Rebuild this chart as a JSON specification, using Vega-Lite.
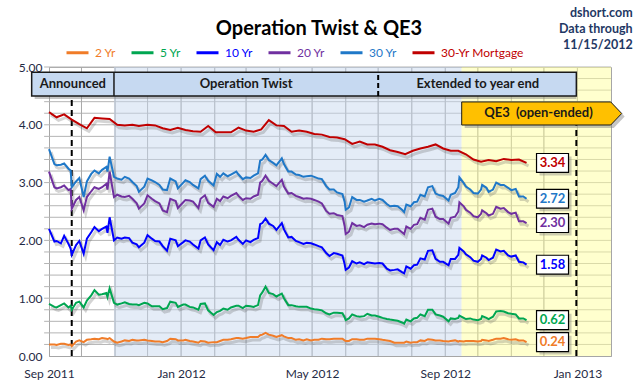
{
  "$schema": "https://vega.github.io/schema/vega-lite/v6.json",
  "width": 562,
  "height": 289,
  "autosize": "none",
  "padding": {"left": 49, "top": 67, "right": 29, "bottom": 29},
  "background": "white",
  "title": {"text": "Operation Twist & QE3", "font": "Lato", "fontSize": 20, "fontWeight": "bold", "color": "#000000", "anchor": "middle", "frame": "group", "dx": -11, "offset": -32},
  "config": {
    "font": "Lato",
    "view": {"stroke": "#a6a6a6", "strokeWidth": 1}
  },
  "datasets": {
    "treas": [
      {"d": "2011-09-01", "2 Yr": 0.20, "5 Yr": 0.90, "10 Yr": 2.20, "20 Yr": 3.19, "30 Yr": 3.58},
      {"d": "2011-09-06", "2 Yr": 0.20, "5 Yr": 0.85, "10 Yr": 1.98, "20 Yr": 2.92, "30 Yr": 3.32},
      {"d": "2011-09-08", "2 Yr": 0.19, "5 Yr": 0.84, "10 Yr": 1.99, "20 Yr": 2.90, "30 Yr": 3.30},
      {"d": "2011-09-12", "2 Yr": 0.21, "5 Yr": 0.88, "10 Yr": 1.95, "20 Yr": 2.92, "30 Yr": 3.31},
      {"d": "2011-09-15", "2 Yr": 0.21, "5 Yr": 0.91, "10 Yr": 2.08, "20 Yr": 2.95, "30 Yr": 3.33},
      {"d": "2011-09-19", "2 Yr": 0.19, "5 Yr": 0.84, "10 Yr": 1.94, "20 Yr": 2.87, "30 Yr": 3.24},
      {"d": "2011-09-21", "2 Yr": 0.20, "5 Yr": 0.87, "10 Yr": 1.86, "20 Yr": 2.89, "30 Yr": 3.21},
      {"d": "2011-09-22", "2 Yr": 0.17, "5 Yr": 0.80, "10 Yr": 1.75, "20 Yr": 2.55, "30 Yr": 2.92},
      {"d": "2011-09-26", "2 Yr": 0.25, "5 Yr": 0.92, "10 Yr": 1.92, "20 Yr": 2.70, "30 Yr": 3.02},
      {"d": "2011-09-29", "2 Yr": 0.27, "5 Yr": 0.94, "10 Yr": 1.99, "20 Yr": 2.75, "30 Yr": 3.08},
      {"d": "2011-10-03", "2 Yr": 0.24, "5 Yr": 0.84, "10 Yr": 1.77, "20 Yr": 2.52, "30 Yr": 2.75},
      {"d": "2011-10-06", "2 Yr": 0.28, "5 Yr": 0.96, "10 Yr": 2.03, "20 Yr": 2.75, "30 Yr": 3.02},
      {"d": "2011-10-10", "2 Yr": 0.29, "5 Yr": 1.05, "10 Yr": 2.14, "20 Yr": 2.85, "30 Yr": 3.15},
      {"d": "2011-10-13", "2 Yr": 0.30, "5 Yr": 1.14, "10 Yr": 2.23, "20 Yr": 2.92, "30 Yr": 3.21},
      {"d": "2011-10-17", "2 Yr": 0.29, "5 Yr": 1.06, "10 Yr": 2.16, "20 Yr": 2.89, "30 Yr": 3.16},
      {"d": "2011-10-20", "2 Yr": 0.31, "5 Yr": 1.07, "10 Yr": 2.20, "20 Yr": 2.92, "30 Yr": 3.22},
      {"d": "2011-10-24", "2 Yr": 0.30, "5 Yr": 1.09, "10 Yr": 2.24, "20 Yr": 2.98, "30 Yr": 3.27},
      {"d": "2011-10-25", "2 Yr": 0.29, "5 Yr": 1.02, "10 Yr": 2.13, "20 Yr": 2.88, "30 Yr": 3.19},
      {"d": "2011-10-27", "2 Yr": 0.31, "5 Yr": 1.17, "10 Yr": 2.40, "20 Yr": 3.19, "30 Yr": 3.45},
      {"d": "2011-10-31", "2 Yr": 0.25, "5 Yr": 0.92, "10 Yr": 2.00, "20 Yr": 2.75, "30 Yr": 3.10},
      {"d": "2011-11-03", "2 Yr": 0.23, "5 Yr": 0.89, "10 Yr": 2.05, "20 Yr": 2.79, "30 Yr": 3.07},
      {"d": "2011-11-07", "2 Yr": 0.25, "5 Yr": 0.91, "10 Yr": 2.03, "20 Yr": 2.76, "30 Yr": 3.05},
      {"d": "2011-11-10", "2 Yr": 0.27, "5 Yr": 0.93, "10 Yr": 2.05, "20 Yr": 2.75, "30 Yr": 3.10},
      {"d": "2011-11-14", "2 Yr": 0.26, "5 Yr": 0.90, "10 Yr": 2.04, "20 Yr": 2.77, "30 Yr": 3.07},
      {"d": "2011-11-17", "2 Yr": 0.28, "5 Yr": 0.89, "10 Yr": 1.96, "20 Yr": 2.72, "30 Yr": 3.01},
      {"d": "2011-11-21", "2 Yr": 0.27, "5 Yr": 0.89, "10 Yr": 1.93, "20 Yr": 2.64, "30 Yr": 2.94},
      {"d": "2011-11-23", "2 Yr": 0.27, "5 Yr": 0.88, "10 Yr": 1.88, "20 Yr": 2.55, "30 Yr": 2.84},
      {"d": "2011-11-28", "2 Yr": 0.28, "5 Yr": 0.92, "10 Yr": 1.96, "20 Yr": 2.64, "30 Yr": 2.93},
      {"d": "2011-12-01", "2 Yr": 0.27, "5 Yr": 0.91, "10 Yr": 2.09, "20 Yr": 2.78, "30 Yr": 3.07},
      {"d": "2011-12-05", "2 Yr": 0.26, "5 Yr": 0.86, "10 Yr": 2.03, "20 Yr": 2.72, "30 Yr": 3.04},
      {"d": "2011-12-08", "2 Yr": 0.25, "5 Yr": 0.86, "10 Yr": 1.99, "20 Yr": 2.68, "30 Yr": 3.01},
      {"d": "2011-12-12", "2 Yr": 0.25, "5 Yr": 0.86, "10 Yr": 1.98, "20 Yr": 2.64, "30 Yr": 2.96},
      {"d": "2011-12-15", "2 Yr": 0.24, "5 Yr": 0.81, "10 Yr": 1.90, "20 Yr": 2.52, "30 Yr": 2.88},
      {"d": "2011-12-19", "2 Yr": 0.26, "5 Yr": 0.83, "10 Yr": 1.82, "20 Yr": 2.49, "30 Yr": 2.87},
      {"d": "2011-12-22", "2 Yr": 0.30, "5 Yr": 0.94, "10 Yr": 2.03, "20 Yr": 2.72, "30 Yr": 3.07},
      {"d": "2011-12-27", "2 Yr": 0.29, "5 Yr": 0.92, "10 Yr": 2.00, "20 Yr": 2.68, "30 Yr": 3.02},
      {"d": "2011-12-29", "2 Yr": 0.27, "5 Yr": 0.85, "10 Yr": 1.90, "20 Yr": 2.56, "30 Yr": 2.90},
      {"d": "2012-01-03", "2 Yr": 0.27, "5 Yr": 0.89, "10 Yr": 1.97, "20 Yr": 2.66, "30 Yr": 3.00},
      {"d": "2012-01-05", "2 Yr": 0.28, "5 Yr": 0.89, "10 Yr": 2.00, "20 Yr": 2.70, "30 Yr": 3.04},
      {"d": "2012-01-09", "2 Yr": 0.26, "5 Yr": 0.85, "10 Yr": 1.98, "20 Yr": 2.69, "30 Yr": 3.01},
      {"d": "2012-01-12", "2 Yr": 0.25, "5 Yr": 0.84, "10 Yr": 1.93, "20 Yr": 2.67, "30 Yr": 2.96},
      {"d": "2012-01-17", "2 Yr": 0.23, "5 Yr": 0.80, "10 Yr": 1.86, "20 Yr": 2.56, "30 Yr": 2.90},
      {"d": "2012-01-19", "2 Yr": 0.26, "5 Yr": 0.90, "10 Yr": 2.00, "20 Yr": 2.72, "30 Yr": 3.06},
      {"d": "2012-01-23", "2 Yr": 0.25, "5 Yr": 0.91, "10 Yr": 2.05, "20 Yr": 2.78, "30 Yr": 3.12},
      {"d": "2012-01-26", "2 Yr": 0.23, "5 Yr": 0.79, "10 Yr": 1.93, "20 Yr": 2.65, "30 Yr": 3.03},
      {"d": "2012-01-31", "2 Yr": 0.24, "5 Yr": 0.71, "10 Yr": 1.83, "20 Yr": 2.58, "30 Yr": 2.95},
      {"d": "2012-02-03", "2 Yr": 0.24, "5 Yr": 0.76, "10 Yr": 1.97, "20 Yr": 2.72, "30 Yr": 3.15},
      {"d": "2012-02-06", "2 Yr": 0.26, "5 Yr": 0.78, "10 Yr": 1.92, "20 Yr": 2.68, "30 Yr": 3.10},
      {"d": "2012-02-09", "2 Yr": 0.28, "5 Yr": 0.82, "10 Yr": 2.01, "20 Yr": 2.76, "30 Yr": 3.16},
      {"d": "2012-02-13", "2 Yr": 0.28, "5 Yr": 0.80, "10 Yr": 1.98, "20 Yr": 2.73, "30 Yr": 3.11},
      {"d": "2012-02-16", "2 Yr": 0.29, "5 Yr": 0.84, "10 Yr": 2.00, "20 Yr": 2.77, "30 Yr": 3.14},
      {"d": "2012-02-21", "2 Yr": 0.31, "5 Yr": 0.87, "10 Yr": 2.06, "20 Yr": 2.82, "30 Yr": 3.19},
      {"d": "2012-02-23", "2 Yr": 0.31, "5 Yr": 0.87, "10 Yr": 2.01, "20 Yr": 2.77, "30 Yr": 3.14},
      {"d": "2012-02-27", "2 Yr": 0.30, "5 Yr": 0.83, "10 Yr": 1.94, "20 Yr": 2.70, "30 Yr": 3.06},
      {"d": "2012-03-01", "2 Yr": 0.31, "5 Yr": 0.87, "10 Yr": 2.00, "20 Yr": 2.73, "30 Yr": 3.09},
      {"d": "2012-03-05", "2 Yr": 0.33, "5 Yr": 0.86, "10 Yr": 1.97, "20 Yr": 2.72, "30 Yr": 3.08},
      {"d": "2012-03-08", "2 Yr": 0.33, "5 Yr": 0.85, "10 Yr": 2.01, "20 Yr": 2.76, "30 Yr": 3.12},
      {"d": "2012-03-12", "2 Yr": 0.33, "5 Yr": 0.88, "10 Yr": 2.04, "20 Yr": 2.79, "30 Yr": 3.16},
      {"d": "2012-03-14", "2 Yr": 0.36, "5 Yr": 1.05, "10 Yr": 2.28, "20 Yr": 3.00, "30 Yr": 3.38},
      {"d": "2012-03-16", "2 Yr": 0.37, "5 Yr": 1.10, "10 Yr": 2.30, "20 Yr": 3.03, "30 Yr": 3.40},
      {"d": "2012-03-19", "2 Yr": 0.40, "5 Yr": 1.20, "10 Yr": 2.38, "20 Yr": 3.12, "30 Yr": 3.48},
      {"d": "2012-03-22", "2 Yr": 0.37, "5 Yr": 1.09, "10 Yr": 2.29, "20 Yr": 3.03, "30 Yr": 3.39},
      {"d": "2012-03-26", "2 Yr": 0.35, "5 Yr": 1.07, "10 Yr": 2.25, "20 Yr": 2.98, "30 Yr": 3.34},
      {"d": "2012-03-29", "2 Yr": 0.33, "5 Yr": 1.03, "10 Yr": 2.18, "20 Yr": 2.94, "30 Yr": 3.30},
      {"d": "2012-04-03", "2 Yr": 0.36, "5 Yr": 1.08, "10 Yr": 2.30, "20 Yr": 3.05, "30 Yr": 3.42},
      {"d": "2012-04-05", "2 Yr": 0.34, "5 Yr": 1.00, "10 Yr": 2.19, "20 Yr": 2.93, "30 Yr": 3.32},
      {"d": "2012-04-09", "2 Yr": 0.31, "5 Yr": 0.88, "10 Yr": 2.05, "20 Yr": 2.81, "30 Yr": 3.19},
      {"d": "2012-04-12", "2 Yr": 0.31, "5 Yr": 0.88, "10 Yr": 2.06, "20 Yr": 2.82, "30 Yr": 3.19},
      {"d": "2012-04-16", "2 Yr": 0.28, "5 Yr": 0.86, "10 Yr": 1.99, "20 Yr": 2.77, "30 Yr": 3.14},
      {"d": "2012-04-19", "2 Yr": 0.29, "5 Yr": 0.85, "10 Yr": 1.97, "20 Yr": 2.75, "30 Yr": 3.13},
      {"d": "2012-04-23", "2 Yr": 0.27, "5 Yr": 0.85, "10 Yr": 1.94, "20 Yr": 2.72, "30 Yr": 3.10},
      {"d": "2012-04-26", "2 Yr": 0.29, "5 Yr": 0.85, "10 Yr": 1.96, "20 Yr": 2.73, "30 Yr": 3.11},
      {"d": "2012-04-30", "2 Yr": 0.27, "5 Yr": 0.82, "10 Yr": 1.95, "20 Yr": 2.72, "30 Yr": 3.12},
      {"d": "2012-05-03", "2 Yr": 0.28, "5 Yr": 0.81, "10 Yr": 1.93, "20 Yr": 2.70, "30 Yr": 3.10},
      {"d": "2012-05-07", "2 Yr": 0.28, "5 Yr": 0.80, "10 Yr": 1.90, "20 Yr": 2.67, "30 Yr": 3.07},
      {"d": "2012-05-10", "2 Yr": 0.30, "5 Yr": 0.79, "10 Yr": 1.88, "20 Yr": 2.64, "30 Yr": 3.06},
      {"d": "2012-05-14", "2 Yr": 0.29, "5 Yr": 0.74, "10 Yr": 1.78, "20 Yr": 2.51, "30 Yr": 2.94},
      {"d": "2012-05-17", "2 Yr": 0.29, "5 Yr": 0.72, "10 Yr": 1.73, "20 Yr": 2.46, "30 Yr": 2.88},
      {"d": "2012-05-21", "2 Yr": 0.30, "5 Yr": 0.75, "10 Yr": 1.78, "20 Yr": 2.47, "30 Yr": 2.88},
      {"d": "2012-05-24", "2 Yr": 0.30, "5 Yr": 0.75, "10 Yr": 1.77, "20 Yr": 2.44, "30 Yr": 2.83},
      {"d": "2012-05-29", "2 Yr": 0.30, "5 Yr": 0.74, "10 Yr": 1.74, "20 Yr": 2.42, "30 Yr": 2.80},
      {"d": "2012-05-31", "2 Yr": 0.27, "5 Yr": 0.67, "10 Yr": 1.59, "20 Yr": 2.25, "30 Yr": 2.67},
      {"d": "2012-06-01", "2 Yr": 0.26, "5 Yr": 0.62, "10 Yr": 1.49, "20 Yr": 2.11, "30 Yr": 2.53},
      {"d": "2012-06-04", "2 Yr": 0.26, "5 Yr": 0.65, "10 Yr": 1.53, "20 Yr": 2.15, "30 Yr": 2.57},
      {"d": "2012-06-07", "2 Yr": 0.29, "5 Yr": 0.72, "10 Yr": 1.64, "20 Yr": 2.30, "30 Yr": 2.75},
      {"d": "2012-06-11", "2 Yr": 0.29, "5 Yr": 0.69, "10 Yr": 1.60, "20 Yr": 2.25, "30 Yr": 2.70},
      {"d": "2012-06-14", "2 Yr": 0.28, "5 Yr": 0.68, "10 Yr": 1.62, "20 Yr": 2.26, "30 Yr": 2.70},
      {"d": "2012-06-18", "2 Yr": 0.28, "5 Yr": 0.69, "10 Yr": 1.59, "20 Yr": 2.23, "30 Yr": 2.67},
      {"d": "2012-06-21", "2 Yr": 0.30, "5 Yr": 0.73, "10 Yr": 1.62, "20 Yr": 2.27, "30 Yr": 2.69},
      {"d": "2012-06-25", "2 Yr": 0.30, "5 Yr": 0.70, "10 Yr": 1.61, "20 Yr": 2.29, "30 Yr": 2.72},
      {"d": "2012-06-28", "2 Yr": 0.30, "5 Yr": 0.70, "10 Yr": 1.60, "20 Yr": 2.28, "30 Yr": 2.69},
      {"d": "2012-07-02", "2 Yr": 0.29, "5 Yr": 0.68, "10 Yr": 1.61, "20 Yr": 2.29, "30 Yr": 2.72},
      {"d": "2012-07-05", "2 Yr": 0.28, "5 Yr": 0.66, "10 Yr": 1.60, "20 Yr": 2.28, "30 Yr": 2.70},
      {"d": "2012-07-09", "2 Yr": 0.27, "5 Yr": 0.64, "10 Yr": 1.51, "20 Yr": 2.22, "30 Yr": 2.63},
      {"d": "2012-07-12", "2 Yr": 0.26, "5 Yr": 0.63, "10 Yr": 1.48, "20 Yr": 2.18, "30 Yr": 2.59},
      {"d": "2012-07-16", "2 Yr": 0.23, "5 Yr": 0.62, "10 Yr": 1.49, "20 Yr": 2.20, "30 Yr": 2.60},
      {"d": "2012-07-19", "2 Yr": 0.23, "5 Yr": 0.61, "10 Yr": 1.50, "20 Yr": 2.20, "30 Yr": 2.59},
      {"d": "2012-07-23", "2 Yr": 0.23, "5 Yr": 0.58, "10 Yr": 1.45, "20 Yr": 2.14, "30 Yr": 2.53},
      {"d": "2012-07-25", "2 Yr": 0.23, "5 Yr": 0.56, "10 Yr": 1.43, "20 Yr": 2.11, "30 Yr": 2.49},
      {"d": "2012-07-27", "2 Yr": 0.25, "5 Yr": 0.63, "10 Yr": 1.55, "20 Yr": 2.24, "30 Yr": 2.62},
      {"d": "2012-07-31", "2 Yr": 0.23, "5 Yr": 0.60, "10 Yr": 1.51, "20 Yr": 2.20, "30 Yr": 2.59},
      {"d": "2012-08-03", "2 Yr": 0.24, "5 Yr": 0.65, "10 Yr": 1.57, "20 Yr": 2.27, "30 Yr": 2.66},
      {"d": "2012-08-06", "2 Yr": 0.24, "5 Yr": 0.66, "10 Yr": 1.58, "20 Yr": 2.28, "30 Yr": 2.67},
      {"d": "2012-08-09", "2 Yr": 0.27, "5 Yr": 0.72, "10 Yr": 1.69, "20 Yr": 2.39, "30 Yr": 2.79},
      {"d": "2012-08-13", "2 Yr": 0.26, "5 Yr": 0.69, "10 Yr": 1.67, "20 Yr": 2.36, "30 Yr": 2.76},
      {"d": "2012-08-16", "2 Yr": 0.29, "5 Yr": 0.80, "10 Yr": 1.82, "20 Yr": 2.53, "30 Yr": 2.92},
      {"d": "2012-08-20", "2 Yr": 0.28, "5 Yr": 0.80, "10 Yr": 1.83, "20 Yr": 2.55, "30 Yr": 2.94},
      {"d": "2012-08-23", "2 Yr": 0.27, "5 Yr": 0.72, "10 Yr": 1.68, "20 Yr": 2.41, "30 Yr": 2.81},
      {"d": "2012-08-27", "2 Yr": 0.27, "5 Yr": 0.70, "10 Yr": 1.63, "20 Yr": 2.37, "30 Yr": 2.78},
      {"d": "2012-08-30", "2 Yr": 0.26, "5 Yr": 0.68, "10 Yr": 1.63, "20 Yr": 2.37, "30 Yr": 2.77},
      {"d": "2012-09-04", "2 Yr": 0.25, "5 Yr": 0.60, "10 Yr": 1.57, "20 Yr": 2.29, "30 Yr": 2.69},
      {"d": "2012-09-06", "2 Yr": 0.26, "5 Yr": 0.65, "10 Yr": 1.68, "20 Yr": 2.39, "30 Yr": 2.79},
      {"d": "2012-09-10", "2 Yr": 0.27, "5 Yr": 0.64, "10 Yr": 1.68, "20 Yr": 2.41, "30 Yr": 2.82},
      {"d": "2012-09-13", "2 Yr": 0.25, "5 Yr": 0.66, "10 Yr": 1.75, "20 Yr": 2.50, "30 Yr": 2.92},
      {"d": "2012-09-14", "2 Yr": 0.26, "5 Yr": 0.70, "10 Yr": 1.87, "20 Yr": 2.66, "30 Yr": 3.09},
      {"d": "2012-09-18", "2 Yr": 0.25, "5 Yr": 0.66, "10 Yr": 1.81, "20 Yr": 2.59, "30 Yr": 2.99},
      {"d": "2012-09-20", "2 Yr": 0.26, "5 Yr": 0.64, "10 Yr": 1.76, "20 Yr": 2.53, "30 Yr": 2.93},
      {"d": "2012-09-24", "2 Yr": 0.26, "5 Yr": 0.65, "10 Yr": 1.71, "20 Yr": 2.48, "30 Yr": 2.88},
      {"d": "2012-09-27", "2 Yr": 0.26, "5 Yr": 0.63, "10 Yr": 1.65, "20 Yr": 2.42, "30 Yr": 2.82},
      {"d": "2012-10-01", "2 Yr": 0.25, "5 Yr": 0.62, "10 Yr": 1.63, "20 Yr": 2.40, "30 Yr": 2.81},
      {"d": "2012-10-04", "2 Yr": 0.26, "5 Yr": 0.64, "10 Yr": 1.68, "20 Yr": 2.46, "30 Yr": 2.88},
      {"d": "2012-10-05", "2 Yr": 0.28, "5 Yr": 0.69, "10 Yr": 1.74, "20 Yr": 2.52, "30 Yr": 2.96},
      {"d": "2012-10-09", "2 Yr": 0.27, "5 Yr": 0.66, "10 Yr": 1.70, "20 Yr": 2.47, "30 Yr": 2.91},
      {"d": "2012-10-11", "2 Yr": 0.26, "5 Yr": 0.64, "10 Yr": 1.66, "20 Yr": 2.43, "30 Yr": 2.84},
      {"d": "2012-10-15", "2 Yr": 0.28, "5 Yr": 0.68, "10 Yr": 1.70, "20 Yr": 2.46, "30 Yr": 2.88},
      {"d": "2012-10-18", "2 Yr": 0.30, "5 Yr": 0.77, "10 Yr": 1.84, "20 Yr": 2.58, "30 Yr": 3.00},
      {"d": "2012-10-22", "2 Yr": 0.30, "5 Yr": 0.78, "10 Yr": 1.81, "20 Yr": 2.55, "30 Yr": 2.96},
      {"d": "2012-10-25", "2 Yr": 0.31, "5 Yr": 0.77, "10 Yr": 1.82, "20 Yr": 2.56, "30 Yr": 2.96},
      {"d": "2012-10-29", "2 Yr": 0.29, "5 Yr": 0.74, "10 Yr": 1.74, "20 Yr": 2.49, "30 Yr": 2.91},
      {"d": "2012-11-01", "2 Yr": 0.28, "5 Yr": 0.73, "10 Yr": 1.72, "20 Yr": 2.46, "30 Yr": 2.87},
      {"d": "2012-11-05", "2 Yr": 0.29, "5 Yr": 0.72, "10 Yr": 1.74, "20 Yr": 2.48, "30 Yr": 2.89},
      {"d": "2012-11-08", "2 Yr": 0.27, "5 Yr": 0.65, "10 Yr": 1.63, "20 Yr": 2.33, "30 Yr": 2.76},
      {"d": "2012-11-12", "2 Yr": 0.27, "5 Yr": 0.65, "10 Yr": 1.62, "20 Yr": 2.33, "30 Yr": 2.76},
      {"d": "2012-11-15", "2 Yr": 0.24, "5 Yr": 0.62, "10 Yr": 1.58, "20 Yr": 2.30, "30 Yr": 2.72}
    ],
    "mort": [
      {"d": "2011-09-01", "30-Yr Mortgage": 4.22}, {"d": "2011-09-08", "30-Yr Mortgage": 4.13}, {"d": "2011-09-15", "30-Yr Mortgage": 4.18},
      {"d": "2011-09-22", "30-Yr Mortgage": 4.09}, {"d": "2011-09-29", "30-Yr Mortgage": 4.01}, {"d": "2011-10-06", "30-Yr Mortgage": 3.94},
      {"d": "2011-10-13", "30-Yr Mortgage": 4.12}, {"d": "2011-10-20", "30-Yr Mortgage": 4.11}, {"d": "2011-10-27", "30-Yr Mortgage": 4.10},
      {"d": "2011-11-03", "30-Yr Mortgage": 4.00}, {"d": "2011-11-10", "30-Yr Mortgage": 3.99}, {"d": "2011-11-17", "30-Yr Mortgage": 4.00},
      {"d": "2011-11-23", "30-Yr Mortgage": 3.98}, {"d": "2011-12-01", "30-Yr Mortgage": 4.00}, {"d": "2011-12-08", "30-Yr Mortgage": 3.99},
      {"d": "2011-12-15", "30-Yr Mortgage": 3.94}, {"d": "2011-12-22", "30-Yr Mortgage": 3.91}, {"d": "2011-12-29", "30-Yr Mortgage": 3.95},
      {"d": "2012-01-05", "30-Yr Mortgage": 3.91}, {"d": "2012-01-12", "30-Yr Mortgage": 3.89}, {"d": "2012-01-19", "30-Yr Mortgage": 3.88},
      {"d": "2012-01-26", "30-Yr Mortgage": 3.98}, {"d": "2012-02-02", "30-Yr Mortgage": 3.87}, {"d": "2012-02-09", "30-Yr Mortgage": 3.87},
      {"d": "2012-02-16", "30-Yr Mortgage": 3.87}, {"d": "2012-02-23", "30-Yr Mortgage": 3.95}, {"d": "2012-03-01", "30-Yr Mortgage": 3.90},
      {"d": "2012-03-08", "30-Yr Mortgage": 3.88}, {"d": "2012-03-15", "30-Yr Mortgage": 3.92}, {"d": "2012-03-22", "30-Yr Mortgage": 4.08},
      {"d": "2012-03-29", "30-Yr Mortgage": 3.99}, {"d": "2012-04-05", "30-Yr Mortgage": 3.98}, {"d": "2012-04-12", "30-Yr Mortgage": 3.88},
      {"d": "2012-04-19", "30-Yr Mortgage": 3.90}, {"d": "2012-04-26", "30-Yr Mortgage": 3.88}, {"d": "2012-05-03", "30-Yr Mortgage": 3.84},
      {"d": "2012-05-10", "30-Yr Mortgage": 3.83}, {"d": "2012-05-17", "30-Yr Mortgage": 3.79}, {"d": "2012-05-24", "30-Yr Mortgage": 3.78},
      {"d": "2012-05-31", "30-Yr Mortgage": 3.75}, {"d": "2012-06-07", "30-Yr Mortgage": 3.67}, {"d": "2012-06-14", "30-Yr Mortgage": 3.71},
      {"d": "2012-06-21", "30-Yr Mortgage": 3.66}, {"d": "2012-06-28", "30-Yr Mortgage": 3.66}, {"d": "2012-07-05", "30-Yr Mortgage": 3.62},
      {"d": "2012-07-12", "30-Yr Mortgage": 3.56}, {"d": "2012-07-19", "30-Yr Mortgage": 3.53}, {"d": "2012-07-26", "30-Yr Mortgage": 3.49},
      {"d": "2012-08-02", "30-Yr Mortgage": 3.55}, {"d": "2012-08-09", "30-Yr Mortgage": 3.59}, {"d": "2012-08-16", "30-Yr Mortgage": 3.62},
      {"d": "2012-08-23", "30-Yr Mortgage": 3.66}, {"d": "2012-08-30", "30-Yr Mortgage": 3.59}, {"d": "2012-09-06", "30-Yr Mortgage": 3.55},
      {"d": "2012-09-13", "30-Yr Mortgage": 3.55}, {"d": "2012-09-20", "30-Yr Mortgage": 3.49}, {"d": "2012-09-27", "30-Yr Mortgage": 3.40},
      {"d": "2012-10-04", "30-Yr Mortgage": 3.36}, {"d": "2012-10-11", "30-Yr Mortgage": 3.39}, {"d": "2012-10-18", "30-Yr Mortgage": 3.37},
      {"d": "2012-10-25", "30-Yr Mortgage": 3.41}, {"d": "2012-11-01", "30-Yr Mortgage": 3.39}, {"d": "2012-11-08", "30-Yr Mortgage": 3.40},
      {"d": "2012-11-15", "30-Yr Mortgage": 3.34}
    ],
    "last": [
      {"series": "30-Yr Mortgage", "value": 3.34},
      {"series": "30 Yr", "value": 2.72},
      {"series": "20 Yr", "value": 2.30},
      {"series": "10 Yr", "value": 1.58},
      {"series": "5 Yr", "value": 0.62},
      {"series": "2 Yr", "value": 0.24}
    ],
    "periods": [
      {"period": "Operation Twist", "start": "2011-10-31", "end": "2012-09-16"},
      {"period": "QE3", "start": "2012-09-16", "end": "2013-02-01"}
    ],
    "phases": [
      {"phase": "Announced", "mid": "2011-09-23"},
      {"phase": "Operation Twist", "mid": "2012-03-01"},
      {"phase": "Extended to year end", "mid": "2012-10-01"}
    ],
    "gridY": [
      {"g": 0.2}, {"g": 0.4}, {"g": 0.6}, {"g": 0.8}, {"g": 1.0}, {"g": 1.2}, {"g": 1.4}, {"g": 1.6}, {"g": 1.8}, {"g": 2.0},
      {"g": 2.2}, {"g": 2.4}, {"g": 2.6}, {"g": 2.8}, {"g": 3.0}, {"g": 3.2}, {"g": 3.4}, {"g": 3.6}, {"g": 3.8}, {"g": 4.0},
      {"g": 4.2}, {"g": 4.4}, {"g": 4.6}, {"g": 4.8}, {"g": 5.0}
    ],
    "gridX": [
      {"m": "2011-10-01"}, {"m": "2011-11-01"}, {"m": "2011-12-01"}, {"m": "2012-01-01"}, {"m": "2012-02-01"}, {"m": "2012-03-01"},
      {"m": "2012-04-01"}, {"m": "2012-05-01"}, {"m": "2012-06-01"}, {"m": "2012-07-01"}, {"m": "2012-08-01"}, {"m": "2012-09-01"},
      {"m": "2012-10-01"}, {"m": "2012-11-01"}, {"m": "2012-12-01"}, {"m": "2013-01-01"}
    ]
  },
  "layer": [
    {
      "data": {"name": "gridY"},
      "mark": {"type": "rule", "color": "#b4b4b4", "strokeWidth": 1},
      "encoding": {
        "x": {"datum": {"year": 2011, "month": 8, "date": 27, "hours": 12, "utc": true}, "type": "temporal"},
        "x2": {"datum": {"year": 2013, "month": 2, "date": 1, "utc": true}},
        "y": {"field": "g", "type": "quantitative"}
      }
    },
    {
      "data": {"name": "gridX"},
      "mark": {"type": "rect", "fill": null, "fillOpacity": 0, "stroke": "#aaaaaa", "strokeWidth": 1, "strokeOpacity": 1},
      "encoding": {
        "x": {"field": "m", "type": "temporal"},
        "x2": {"field": "m"},
        "y": {"datum": 0, "type": "quantitative"},
        "y2": {"datum": 5}
      }
    },
    {
      "data": {"name": "periods"},
      "transform": [{"filter": "datum.period == 'Operation Twist'"}],
      "mark": {"type": "rect", "fill": "#c9daf0", "opacity": 0.5},
      "encoding": {
        "x": {"field": "start", "type": "temporal"},
        "x2": {"field": "end"},
        "y": {"datum": 0, "type": "quantitative"},
        "y2": {"datum": 5}
      }
    },
    {
      "data": {"name": "periods"},
      "transform": [{"filter": "datum.period == 'QE3'"}],
      "mark": {"type": "rect", "fill": "#ffff9e", "opacity": 0.5},
      "encoding": {
        "x": {"field": "start", "type": "temporal"},
        "x2": {"field": "end"},
        "y": {"datum": 0, "type": "quantitative"},
        "y2": {"datum": 5}
      }
    },
    {
      "data": {"values": [{}]},
      "mark": {"type": "rule", "color": "#000000", "strokeWidth": 2, "strokeDash": [6, 4]},
      "encoding": {
        "x": {"datum": {"year": 2011, "month": 9, "date": 22, "utc": true}, "type": "temporal"},
        "y": {"datum": 0, "type": "quantitative"},
        "y2": {"datum": 4.45}
      }
    },
    {
      "data": {"values": [{}]},
      "mark": {"type": "rule", "color": "#000000", "strokeWidth": 2, "strokeDash": [6, 4]},
      "encoding": {
        "x": {"datum": {"year": 2012, "month": 12, "date": 31, "utc": true}, "type": "temporal"},
        "y": {"datum": 0, "type": "quantitative"},
        "y2": {"datum": 4.0}
      }
    },
    {
      "data": {"name": "treas"},
      "transform": [{"fold": ["2 Yr", "5 Yr", "10 Yr", "20 Yr", "30 Yr"], "as": ["series", "value"]}],
      "mark": {"type": "line", "color": "#555555", "opacity": 0.25, "strokeWidth": 3, "xOffset": 2, "yOffset": 3},
      "encoding": {
        "x": {"field": "d", "type": "temporal"},
        "y": {"field": "value", "type": "quantitative"},
        "detail": {"field": "series"}
      }
    },
    {
      "data": {"name": "mort"},
      "transform": [{"fold": ["30-Yr Mortgage"], "as": ["series", "value"]}],
      "mark": {"type": "line", "color": "#555555", "opacity": 0.25, "strokeWidth": 3, "xOffset": 2, "yOffset": 3},
      "encoding": {
        "x": {"field": "d", "type": "temporal"},
        "y": {"field": "value", "type": "quantitative"}
      }
    },
    {
      "data": {"name": "treas"},
      "transform": [{"fold": ["2 Yr", "5 Yr", "10 Yr", "20 Yr", "30 Yr"], "as": ["series", "value"]}],
      "mark": {"type": "line", "strokeWidth": 2},
      "encoding": {
        "x": {"field": "d", "type": "temporal",
              "scale": {"type": "utc", "domain": [{"year": 2011, "month": 9, "date": 1, "utc": true}, {"year": 2013, "month": 2, "date": 1, "utc": true}]},
              "axis": {"values": [
                {"year": 2011, "month": 9, "date": 1, "utc": true}, {"year": 2012, "month": 1, "date": 1, "utc": true},
                {"year": 2012, "month": 5, "date": 1, "utc": true}, {"year": 2012, "month": 9, "date": 1, "utc": true},
                {"year": 2013, "month": 1, "date": 1, "utc": true}],
                "labelExpr": "utcFormat(datum.value, '%b %Y')",
                "ticks": false, "labelPadding": 12, "labelFlush": false, "labelOverlap": false, "labelFont": "Lato", "labelFontSize": 12, "labelColor": "#1f2a44",
                "title": null, "grid": false, "domainColor": "#a6a6a6"}},
        "y": {"field": "value", "type": "quantitative",
              "scale": {"domain": [0, 5], "nice": false, "zero": true},
              "axis": {"values": [0, 1, 2, 3, 4, 5], "format": ".2f",
                       "ticks": false, "labelPadding": 7, "labelOverlap": false, "labelFlush": false, "labelFont": "Lato", "labelFontSize": 12, "labelColor": "#1f2a44",
                       "title": null, "grid": false, "domainColor": "#a6a6a6"}},
        "color": {"field": "series", "type": "nominal",
                  "scale": {"domain": ["2 Yr", "5 Yr", "10 Yr", "20 Yr", "30 Yr", "30-Yr Mortgage"],
                            "range": ["#f07c28", "#00a651", "#0000ff", "#7030a0", "#1f78c8", "#c00000"]},
                  "legend": {"orient": "none", "legendX": 16, "legendY": -27, "direction": "horizontal", "title": null,
                             "symbolType": "stroke", "symbolSize": 484, "symbolStrokeWidth": 3,
                             "labelFont": "Lato", "labelFontSize": 12, "labelOffset": 5, "columnPadding": 9,
                             "encode": {"labels": {"update": {"fill": {"signal": "scale('color', datum.value)"}}}}}}
      }
    },
    {
      "data": {"name": "mort"},
      "transform": [{"fold": ["30-Yr Mortgage"], "as": ["series", "value"]}],
      "mark": {"type": "line", "strokeWidth": 2},
      "encoding": {
        "x": {"field": "d", "type": "temporal"},
        "y": {"field": "value", "type": "quantitative"},
        "color": {"field": "series", "type": "nominal"}
      }
    },
    {
      "data": {"values": [{}]},
      "mark": {"type": "rect", "fill": "#7f7f7f", "opacity": 0.45, "xOffset": 3, "yOffset": 3},
      "encoding": {
        "x": {"datum": {"year": 2011, "month": 8, "date": 16, "utc": true}, "type": "temporal"},
        "x2": {"datum": {"year": 2012, "month": 12, "date": 31, "utc": true}},
        "y": {"datum": 4.5, "type": "quantitative"},
        "y2": {"datum": 4.91}
      }
    },
    {
      "data": {"values": [{}]},
      "mark": {"type": "rect", "fill": "#c6d9f1", "stroke": "#1a1a1a", "strokeWidth": 1.5},
      "encoding": {
        "x": {"datum": {"year": 2011, "month": 8, "date": 16, "utc": true}, "type": "temporal"},
        "x2": {"datum": {"year": 2012, "month": 12, "date": 31, "utc": true}},
        "y": {"datum": 4.5, "type": "quantitative"},
        "y2": {"datum": 4.91}
      }
    },
    {
      "data": {"values": [{}]},
      "mark": {"type": "rule", "color": "#1a1a1a", "strokeWidth": 1.5},
      "encoding": {
        "x": {"datum": {"year": 2011, "month": 10, "date": 31, "utc": true}, "type": "temporal"},
        "y": {"datum": 4.5, "type": "quantitative"},
        "y2": {"datum": 4.91}
      }
    },
    {
      "data": {"values": [{}]},
      "mark": {"type": "rule", "color": "#000000", "strokeWidth": 2, "strokeDash": [5, 3]},
      "encoding": {
        "x": {"datum": {"year": 2012, "month": 7, "date": 1, "utc": true}, "type": "temporal"},
        "y": {"datum": 4.5, "type": "quantitative"},
        "y2": {"datum": 4.91}
      }
    },
    {
      "data": {"name": "phases"},
      "mark": {"type": "text", "font": "Lato", "fontSize": 13, "fontWeight": "bold", "color": "#1a1a1a", "align": "center", "baseline": "middle"},
      "encoding": {
        "x": {"field": "mid", "type": "temporal"},
        "y": {"datum": 4.705, "type": "quantitative"},
        "text": {"field": "phase"}
      }
    },
    {
      "data": {"values": [{}]},
      "mark": {"type": "point", "filled": true, "shape": "M-1,-0.144L0.8625,-0.144L1,0L0.8625,0.144L-1,0.144Z", "size": 25600, "color": "#7f7f7f", "opacity": 0.45, "xOffset": 3, "yOffset": 3},
      "encoding": {
        "x": {"datum": {"year": 2012, "month": 11, "date": 29, "utc": true}, "type": "temporal"},
        "y": {"datum": 4.196, "type": "quantitative"}
      }
    },
    {
      "data": {"values": [{}]},
      "mark": {"type": "point", "filled": true, "shape": "M-1,-0.144L0.8625,-0.144L1,0L0.8625,0.144L-1,0.144Z", "size": 25600, "fill": "#ffc000", "fillOpacity": 1, "stroke": "#1a1a1a", "strokeWidth": 1, "opacity": 1},
      "encoding": {
        "x": {"datum": {"year": 2012, "month": 11, "date": 29, "utc": true}, "type": "temporal"},
        "y": {"datum": 4.196, "type": "quantitative"}
      }
    },
    {
      "data": {"values": [{}]},
      "mark": {"type": "text", "text": "QE3\u00a0 (open-ended)", "font": "Lato", "fontSize": 13, "fontWeight": "bold", "color": "#1a1a1a", "align": "center", "baseline": "middle"},
      "encoding": {
        "x": {"datum": {"year": 2012, "month": 11, "date": 26, "utc": true}, "type": "temporal"},
        "y": {"datum": 4.196, "type": "quantitative"}
      }
    },
    {
      "data": {"name": "last"},
      "mark": {"type": "point", "filled": true, "shape": "M-1,-0.59L1,-0.59L1,0.59L-1,0.59Z", "size": 1024, "color": "#7f7f7f", "opacity": 0.4, "xOffset": 3, "yOffset": 3},
      "encoding": {
        "x": {"datum": {"year": 2012, "month": 12, "date": 9, "utc": true}, "type": "temporal"},
        "y": {"field": "value", "type": "quantitative"}
      }
    },
    {
      "data": {"name": "last"},
      "mark": {"type": "point", "filled": true, "shape": "M-1,-0.59L1,-0.59L1,0.59L-1,0.59Z", "size": 1024, "fill": "#ffffff", "fillOpacity": 1, "stroke": "#000000", "strokeWidth": 1.2, "opacity": 1},
      "encoding": {
        "x": {"datum": {"year": 2012, "month": 12, "date": 9, "utc": true}, "type": "temporal"},
        "y": {"field": "value", "type": "quantitative"}
      }
    },
    {
      "data": {"name": "last"},
      "mark": {"type": "text", "font": "Lato", "fontSize": 13, "fontWeight": "bold", "align": "center", "baseline": "middle"},
      "encoding": {
        "x": {"datum": {"year": 2012, "month": 12, "date": 9, "utc": true}, "type": "temporal"},
        "y": {"field": "value", "type": "quantitative"},
        "text": {"field": "value", "format": ".2f"},
        "color": {"field": "series", "type": "nominal"}
      }
    },
    {
      "data": {"values": [{}]},
      "mark": {"type": "text", "text": ["dshort.com", "Data through", "11/15/2012"], "lineHeight": 16, "font": "Lato", "fontSize": 12.5, "fontWeight": "bold", "color": "#1f3864", "align": "right", "baseline": "top"},
      "encoding": {
        "x": {"datum": {"year": 2013, "month": 2, "date": 21, "utc": true}, "type": "temporal"},
        "y": {"datum": 6.03, "type": "quantitative"}
      }
    }
  ]
}
